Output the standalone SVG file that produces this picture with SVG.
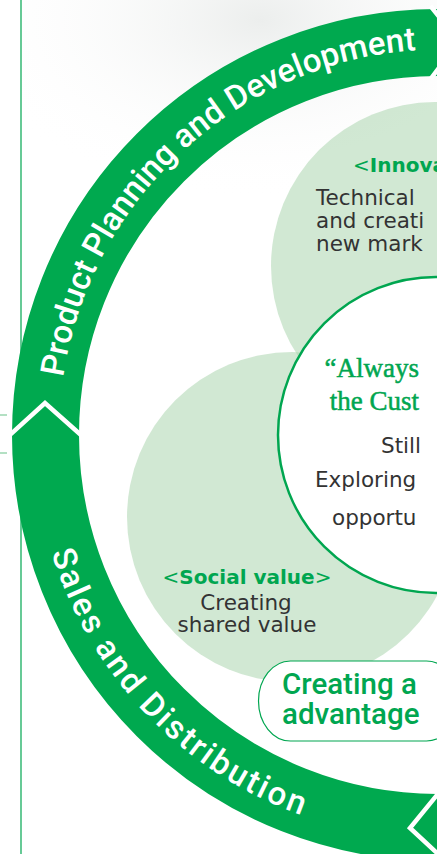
<svg xmlns="http://www.w3.org/2000/svg" width="437" height="854" viewBox="0 0 437 854">
<defs>
<radialGradient id="bgGrad" cx="260" cy="20" r="300" gradientUnits="userSpaceOnUse" gradientTransform="translate(260 20) scale(1 0.6) translate(-260 -20)">
<stop offset="0" stop-color="#eceeed"/>
<stop offset="1" stop-color="#ffffff" stop-opacity="0"/>
</radialGradient>
<path id="arcTop" d="M 63.2 377.1 A 385 385 0 0 1 477.6 50.5"/>
<path id="arcBot" d="M 51.5 552.4 A 404 404 0 0 0 367.8 832.9"/>
</defs>
<style>
.ring{fill:none;stroke:#00a94f;stroke-width:67}
.chev{fill:none;stroke:#ffffff;stroke-width:4.5;stroke-linejoin:miter}
.lite{fill:#a3d1a7;fill-opacity:0.5}
.rt{font-family:Roboto,"Noto Sans",sans-serif;font-weight:500;font-size:33px;fill:#ffffff}
.body{font-family:"DejaVu Sans",sans-serif;font-size:21.5px;fill:#333333}
.ttl{font-family:"DejaVu Sans",sans-serif;font-size:20px;font-weight:bold;fill:#00a650}
.br{font-weight:normal}
.serif{font-family:"Liberation Serif",serif;font-size:27px;fill:#00a650;stroke:#00a650;stroke-width:0.5}
.big{font-family:Roboto,"Noto Sans",sans-serif;font-weight:500;font-size:29.5px;fill:#00a650}
</style>
<g id="background">
<rect x="0" y="0" width="437" height="854" fill="#ffffff"/>
<rect x="21" y="0" width="416" height="320" fill="url(#bgGrad)"/>
<line x1="21" y1="0" x2="21" y2="854" stroke="#00a650" stroke-width="1.2"/>
<line x1="0" y1="415" x2="7" y2="415" stroke="#80cc9c" stroke-width="1.2"/>
<line x1="0" y1="453" x2="7" y2="453" stroke="#80cc9c" stroke-width="1.2"/>
</g>
<g id="node-innovation">
<circle cx="435" cy="266" r="164" class="lite"/>
<text class="ttl" x="353" y="172"><tspan class="br">&lt;</tspan>Innova</text>
<text class="body" x="316" y="205">Technical</text>
<text class="body" x="316" y="228">and creati</text>
<text class="body" x="316" y="251">new mark</text>
</g>
<g id="node-social">
<circle cx="292" cy="517" r="165" class="lite"/>
<text class="ttl" x="247" y="584" text-anchor="middle"><tspan class="br">&lt;</tspan>Social value<tspan class="br">&gt;</tspan></text>
<text class="body" x="246" y="610" text-anchor="middle">Creating</text>
<text class="body" x="247" y="632" text-anchor="middle">shared value</text>
</g>
<g id="node-core">
<circle cx="436" cy="435" r="158" fill="#ffffff" stroke="#00a650" stroke-width="2.5"/>
<text class="serif" x="419" y="377" text-anchor="end">“Always</text>
<text class="serif" x="419" y="410" text-anchor="end">the Cust</text>
<text class="body" x="381" y="453">Still</text>
<text class="body" x="315" y="487">Exploring</text>
<text class="body" x="332" y="525">opportu</text>
</g>
<g id="node-advantage">
<rect x="258.5" y="661" width="200" height="80" rx="32" ry="40" fill="#ffffff" stroke="#00a650" stroke-width="1.2"/>
<text class="big" x="282" y="694">Creating a</text>
<text class="big" x="282" y="724">advantage</text>
</g>
<g id="node-ring">
<circle cx="438" cy="435" r="392.5" class="ring"/>
<text class="rt"><textPath href="#arcTop">Product Planning and Development</textPath></text>
<text class="rt" letter-spacing="2.5"><textPath href="#arcBot">Sales and Distribution</textPath></text>
</g>
<g id="connectors">
<polyline class="chev" points="5,439.4 45,403 86,439.5"/>
<polyline class="chev" points="440,791.3 410,828 440,855.8"/>
<polyline class="chev" points="430.5,6 459,42 430.5,79"/>
</g>
</svg>
